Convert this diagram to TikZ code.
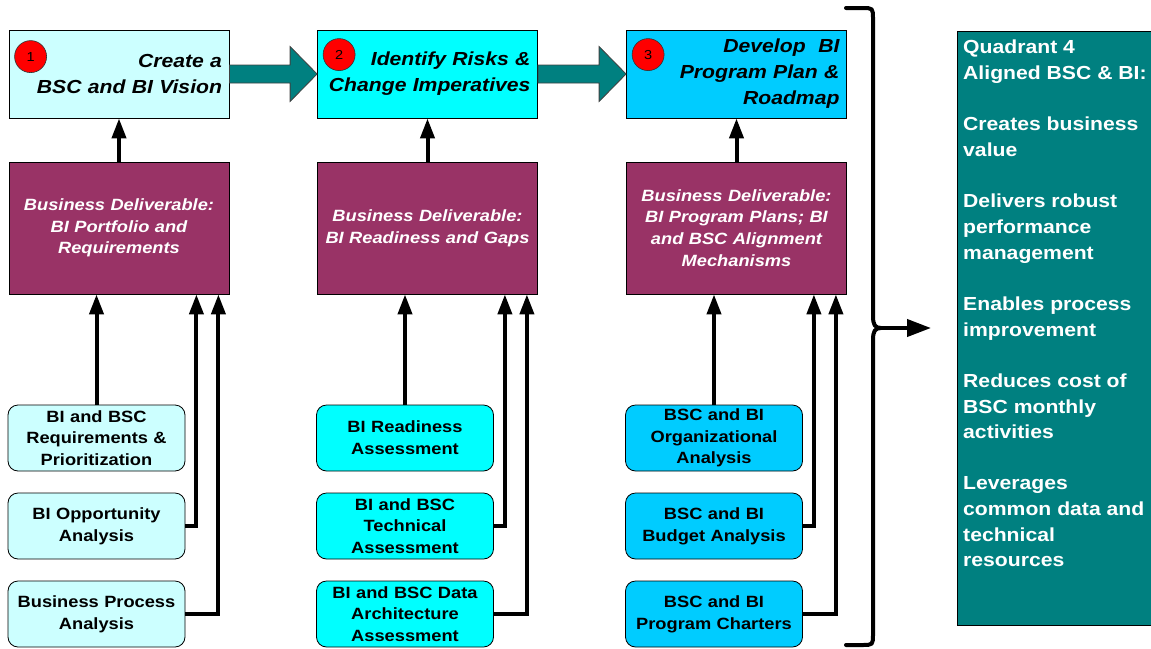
\documentclass[tikz,border=0pt]{standalone}
\usepackage{fontspec}
\setmainfont{Liberation Sans}[FakeStretch=1.12]
\usetikzlibrary{arrows.meta,calc}
\definecolor{lc}{HTML}{CCFFFF}
\definecolor{cy}{HTML}{00FFFF}
\definecolor{sk}{HTML}{00CCFF}
\definecolor{plum}{HTML}{993366}
\definecolor{teal8}{HTML}{008080}
\begin{document}
\begin{tikzpicture}[x=1pt,y=-1pt,
 topbox/.style={draw=black,line width=0.8pt,minimum height=88pt,text width=206pt,inner xsep=7pt,inner ysep=0pt,align=right,font=\fontsize{18.9}{26}\selectfont\bfseries\itshape},
 delbox/.style={draw=black,fill=plum,line width=0.8pt,minimum height=132pt,text width=210pt,inner xsep=5pt,align=center,text=white,font=\fontsize{16.3}{21.7}\selectfont\bfseries\itshape},
 actbox/.style={draw=black,line width=0.8pt,rounded corners=10pt,minimum height=66pt,text width=165pt,inner xsep=6pt,inner ysep=0pt,align=center,font=\fontsize{16.3}{21.7}\selectfont\bfseries},
 num/.style={circle,draw=black!80,line width=0.6pt,fill=red,minimum size=32pt,inner sep=0pt,font=\fontsize{13}{13}\selectfont},
 link/.style={line width=4pt,-{Triangle[length=20pt,width=14pt]}},
 bracelink/.style={line width=4pt,-{Triangle[length=24pt,width=17pt]}},
 bigarrow/.style={draw=black!75,line width=0.8pt,fill=teal8},
 panel/.style={draw=black,line width=0.8pt,fill=teal8,inner sep=0pt},
 paneltext/.style={text=white,align=left,inner sep=0pt,font=\fontsize{18.9}{25.65}\selectfont\bfseries},
]
\useasboundingbox (0,0) rectangle (1151,648);

% top boxes
\node[topbox,fill=lc] (t1) at (119,74) {Create a\\BSC and BI Vision};
\node[topbox,fill=cy] (t2) at (427.5,74) {Identify Risks \&\\Change Imperatives};
\node[topbox,fill=sk] (t3) at (736.5,74) {Develop\ \ BI\\Program Plan \&\\Roadmap};

\node[num] (n1) at ($(t1.north west)+(22,27)$) {1};
\node[num] (n2) at ($(t2.north west)+(22,25)$) {2};
\node[num] (n3) at ($(t3.north west)+(22,25)$) {3};

% big arrows
\path[bigarrow] ($(t1.east)+(0,-9)$) -- ($(t2.west)+(-27,-9)$) -- ($(t2.west)+(-27,-27.5)$) -- (t2.west) -- ($(t2.west)+(-27,27.5)$) -- ($(t2.west)+(-27,9)$) -- ($(t1.east)+(0,9)$) -- cycle;
\path[bigarrow] ($(t2.east)+(0,-9)$) -- ($(t3.west)+(-27,-9)$) -- ($(t3.west)+(-27,-27.5)$) -- (t3.west) -- ($(t3.west)+(-27,27.5)$) -- ($(t3.west)+(-27,9)$) -- ($(t2.east)+(0,9)$) -- cycle;

% deliverables
\node[delbox] (d1) at (119,228) {Business Deliverable:\\BI Portfolio and\\Requirements};
\node[delbox] (d2) at (427.5,228) {Business Deliverable:\\BI Readiness and Gaps};
\node[delbox] (d3) at (736.5,228) {Business Deliverable:\\BI Program Plans; BI\\and BSC Alignment\\Mechanisms};

% activities
\node[actbox,fill=lc] (a11) at (96.5,438) {BI and BSC\\Requirements \&\\Prioritization};
\node[actbox,fill=lc] (a12) at (96.5,526) {BI Opportunity\\Analysis};
\node[actbox,fill=lc] (a13) at (96.5,614) {Business Process\\Analysis};
\node[actbox,fill=cy] (a21) at (405,438) {BI Readiness\\Assessment};
\node[actbox,fill=cy] (a22) at (405,526) {BI and BSC\\Technical\\Assessment};
\node[actbox,fill=cy] (a23) at (405,614) {BI and BSC Data\\Architecture\\Assessment};
\node[actbox,fill=sk] (a31) at (714,438) {BSC and BI\\Organizational\\Analysis};
\node[actbox,fill=sk] (a32) at (714,526) {BSC and BI\\Budget Analysis};
\node[actbox,fill=sk] (a33) at (714,614) {BSC and BI\\Program Charters};

% connectors
\foreach \c in {1,2,3}{
  \draw[link] (a\c1.north) -- (a\c1.north |- d\c.south);
  \draw[link] (a\c2.east) -| ([xshift=-33pt]d\c.south east);
  \draw[link] (a\c3.east) -| ([xshift=-11pt]d\c.south east);
  \draw[link] (d\c.north) -- (t\c.south);
}

% brace
\draw[line width=4pt,line join=round,line cap=round] (846,8) -- (862,8) .. controls (873,8) .. (873,19) -- (873,316) .. controls (873,325) and (875,328) .. (881,328) .. controls (875,328) and (873,331) .. (873,340) -- (873,634) .. controls (873,645) .. (862,645) -- (846,645);
\coordinate (bt) at (881,328);
\coordinate (at) at (931,328);
\draw[bracelink] (bt) -- (at);

% right panel
\node[panel,minimum width=200pt,minimum height=594pt,anchor=north west] (q) at (957,31) {};
\node[paneltext,anchor=north west] (qt) at ($(q.north west)+(6,9)$) {Quadrant 4\\Aligned BSC \& BI:\\[25.65pt]Creates business\\value\\[25.65pt]Delivers robust\\performance\\management\\[25.65pt]Enables process\\improvement\\[25.65pt]Reduces cost of\\BSC monthly\\activities\\[25.65pt]Leverages\\common data and\\technical\\resources};
\end{tikzpicture}
\end{document}
